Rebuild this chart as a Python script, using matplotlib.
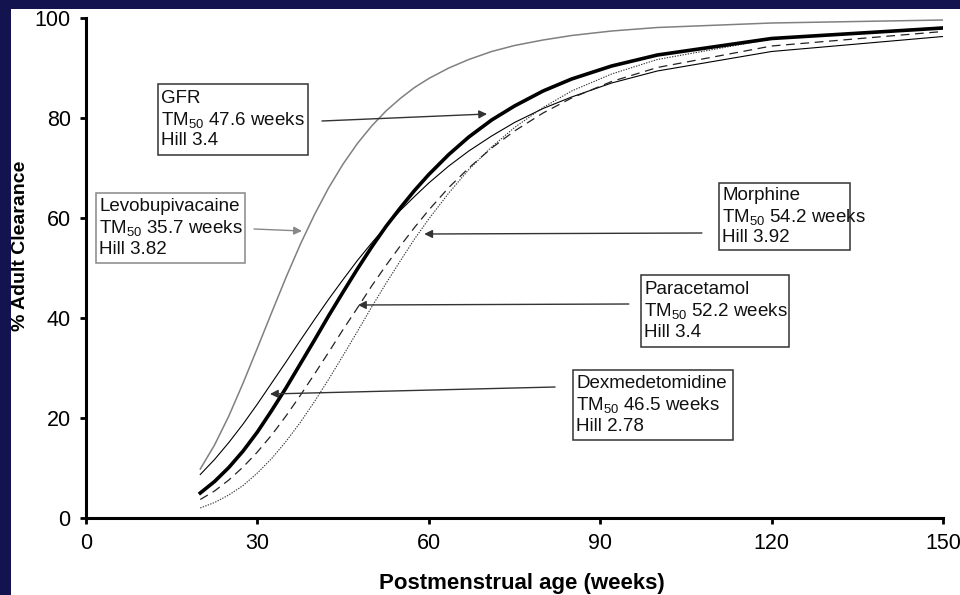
#
# Maturation of clearance with postmenstrual age
#
import numpy as np
import matplotlib.pyplot as plt
from matplotlib.patches import Rectangle

plt.rcParams['font.family'] = ['Liberation Sans', 'DejaVu Sans']
plt.rcParams['mathtext.fontset'] = 'custom'
plt.rcParams['mathtext.rm'] = 'Liberation Sans'
plt.rcParams['mathtext.it'] = 'Liberation Sans:italic'
plt.rcParams['mathtext.bf'] = 'Liberation Sans:bold'

# postmenstrual age (weeks)
pma = [20, 22.5, 25, 27.5, 30, 32.5, 35, 37.5, 40, 42.5, 45, 47.5, 50, 52.5, 55, 57.5,
       60, 63.5, 67, 71, 75, 80, 85, 92, 100, 120, 150]

# % adult clearance
levobupivacaine = [9.8, 14.6, 20.4, 27.0, 34.0, 41.1, 48.1, 54.7, 60.7, 66.1, 70.8, 74.9, 78.4, 81.4,
                   83.9, 86.1, 87.9, 90.0, 91.7, 93.3, 94.5, 95.6, 96.5, 97.4, 98.1, 99.0, 99.6]
gfr = [5.0, 7.3, 10.1, 13.4, 17.2, 21.5, 26.0, 30.8, 35.6, 40.5, 45.2, 49.8, 54.2, 58.3,
       62.0, 65.5, 68.7, 72.7, 76.2, 79.6, 82.4, 85.4, 87.8, 90.4, 92.6, 95.9, 98.0]
dexmed = [8.7, 11.7, 15.1, 18.8, 22.8, 27.0, 31.2, 35.5, 39.7, 43.8, 47.7, 51.5, 55.0, 58.3,
          61.5, 64.3, 67.0, 70.4, 73.4, 76.4, 79.1, 81.9, 84.2, 87.0, 89.4, 93.3, 96.3]
paracetamol = [3.7, 5.4, 7.6, 10.2, 13.2, 16.6, 20.4, 24.5, 28.8, 33.2, 37.7, 42.0, 46.4, 50.5,
               54.4, 58.1, 61.6, 66.1, 70.0, 74.0, 77.4, 81.0, 84.0, 87.3, 90.1, 94.4, 97.3]
morphine = [2.0, 3.1, 4.6, 6.5, 9.0, 11.9, 15.3, 19.1, 23.3, 27.8, 32.5, 37.3, 42.2, 46.9,
            51.4, 55.8, 59.8, 65.0, 69.7, 74.2, 78.1, 82.1, 85.4, 88.8, 91.7, 95.8, 98.2]

xticks = [0, 30, 60, 90, 120, 150]
yticks = [0, 20, 40, 60, 80, 100]

navy = '#13134f'

fig = plt.figure(figsize=(9.6, 5.95), dpi=100, facecolor=navy)
# white panel inside the dark frame
fig.patches.append(Rectangle((11/960, 0), 1, 1 - 9/595, transform=fig.transFigure,
                             facecolor='white', edgecolor='none', zorder=-10))

ax = fig.add_axes([86/960, 77/595, 857/960, 500/595])
ax.set_facecolor('none')

ax.plot(pma, levobupivacaine, color='#808080', lw=1.1, zorder=3)
ax.plot(pma, dexmed, color='black', lw=0.8, zorder=3)
ax.plot(pma, paracetamol, color='#222222', lw=0.9, dashes=(7, 4.5), zorder=3)
ax.plot(pma, morphine, color='#333333', lw=0.8, dashes=(1.2, 1.2), zorder=3)
ax.plot(pma, gfr, color='black', lw=2.6, zorder=4)

ax.set_xlim(0, 150)
ax.set_ylim(0, 100)
ax.set_xticks(xticks)
ax.set_yticks(yticks)
ax.tick_params(labelsize=15.5, width=2, length=4, pad=7, color='black')
for s in ['top', 'right']:
    ax.spines[s].set_visible(False)
for s in ['left', 'bottom']:
    ax.spines[s].set_linewidth(2.2)

fig.text(522/960, 1 - 583/595, 'Postmenstrual age (weeks)', ha='center', va='center',
         fontsize=16, fontweight='bold')
fig.text(20.5/960, 1 - 246/595, '% Adult Clearance', ha='center', va='center',
         rotation=90, fontsize=14, fontweight='bold')

# annotation boxes: (text, box x0, x1, y0, y1, edge colour, arrow tail, arrow head)
notes = [
    ('GFR\nTM$_{50}$ 47.6 weeks\nHill 3.4', 12.6, 38.9, 72.6, 86.8, '#333333',
     (41.3, 79.4), (70.2, 80.8)),
    ('Levobupivacaine\nTM$_{50}$ 35.7 weeks\nHill 3.82', 1.75, 27.8, 51.0, 65.0, '#888888',
     (29.4, 57.8), (37.8, 57.4)),
    ('Morphine\nTM$_{50}$ 54.2 weeks\nHill 3.92', 110.8, 133.7, 53.6, 67.0, '#333333',
     (107.8, 57.0), (59.2, 56.8)),
    ('Paracetamol\nTM$_{50}$ 52.2 weeks\nHill 3.4', 97.1, 123.1, 34.2, 48.6, '#333333',
     (95.0, 42.8), (47.6, 42.6)),
    ('Dexmedetomidine\nTM$_{50}$ 46.5 weeks\nHill 2.78', 85.2, 113.2, 15.6, 29.6, '#333333',
     (82.1, 26.2), (32.2, 24.8)),
]
for txt, x0, x1, y0, y1, ec, tail, head in notes:
    ax.add_patch(Rectangle((x0, y0), x1 - x0, y1 - y0, facecolor='white',
                           edgecolor=ec, lw=1.1, zorder=5))
    ax.text(x0 + 0.6, (y0 + y1) / 2, txt, ha='left', va='center', fontsize=13.5,
            linespacing=1.2, color='#111111', zorder=6)
    acol = '#888888' if ec == '#888888' else '#333333'
    ax.annotate('', xy=head, xytext=tail,
                arrowprops=dict(arrowstyle='-|>', color=acol, lw=1.0,
                                mutation_scale=12, shrinkA=0, shrinkB=0),
                zorder=6)

fig.savefig('out.png', dpi=100, facecolor=navy)
